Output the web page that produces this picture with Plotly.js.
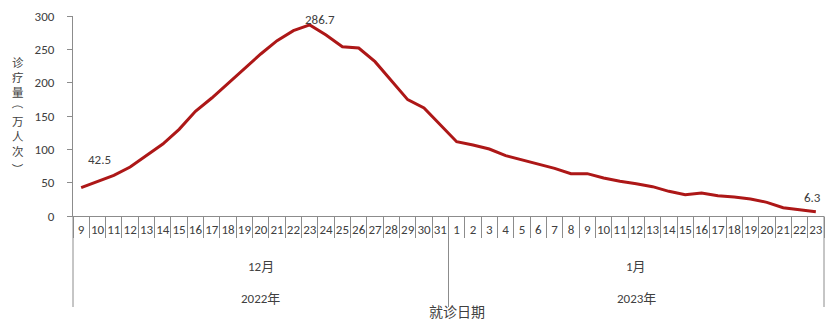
<!DOCTYPE html>
<html>
<head>
<meta charset="utf-8">
<script src="https://cdn.plot.ly/plotly-3.0.1.min.js"></script>
<style>html,body{margin:0;padding:0;background:#fff;}#chart{width:831px;height:323px;}</style>
</head>
<body>
<div id="chart"></div>
<script>
// ---- data ----
const dayLabels = ["9","10","11","12","13","14","15","16","17","18","19","20","21","22","23","24","25","26","27","28","29","30","31",
                   "1","2","3","4","5","6","7","8","9","10","11","12","13","14","15","16","17","18","19","20","21","22","23"];
const monthOfDay = ["12月","12月","12月","12月","12月","12月","12月","12月","12月","12月","12月","12月","12月","12月","12月","12月","12月","12月","12月","12月","12月","12月","12月",
                    "1月","1月","1月","1月","1月","1月","1月","1月","1月","1月","1月","1月","1月","1月","1月","1月","1月","1月","1月","1月","1月","1月","1月"];
const monthLabels = ["12月", "1月"];
const yearLabels = ["2022年", "2023年"];
const visits = [42.5, 51.5, 61, 73.5, 90.5, 108, 130, 157, 177, 199.5, 220.5, 243, 263, 278, 286.7, 271.5, 254, 252, 231.5, 203, 174.5, 162, 136,
                111.5, 106.5, 100.5, 90.5, 84, 78, 71.5, 63.5, 63.5, 57, 52, 48.5, 44, 37, 32, 34.5, 30.5, 28.5, 25.5, 20.5, 12.5, 9.5, 6.3];
const labelledIdx = [0, 14, 45];
const yTitle = "诊疗量（万人次）";
const xTitle = "就诊日期";

// ---- build ----
const cats = dayLabels.map((d, i) => monthOfDay[i] + d + "日");
const FONT = 'Calibri, Carlito, "Liberation Sans", "Noto Sans CJK SC", sans-serif';
const CJK = '"Noto Sans CJK SC", sans-serif';
const TXT = "#404040";
const GRID = "#8c8c8c";

const trace = {
  x: cats, y: visits, type: "scatter", mode: "lines",
  line: {color: "#ad1717", width: 3},
  hoverinfo: "skip"
};

const annotations = [];
// month & year labels centred on their groups
monthLabels.forEach((m, k) => {
  const idx = monthOfDay.map((v, i) => v === m ? i : -1).filter(i => i >= 0);
  const mid = cats[idx[Math.floor(idx.length / 2)]];
  annotations.push({xref: "x", yref: "paper", x: mid, y: -0.25, text: m, showarrow: false,
    font: {size: 13, color: TXT, family: FONT}, xanchor: "center", yanchor: "middle"});
  annotations.push({xref: "x", yref: "paper", x: mid, y: -0.41, text: yearLabels[k], showarrow: false,
    font: {size: 13, color: TXT, family: FONT}, xanchor: "center", yanchor: "middle"});
});
// data labels
const shifts = {0: [18, 28], 14: [10, 5], 45: [-3, 14]};
labelledIdx.forEach(i => {
  annotations.push({xref: "x", yref: "y", x: cats[i], y: visits[i], text: String(visits[i]), showarrow: false,
    xshift: shifts[i][0], yshift: shifts[i][1], xanchor: "center", font: {size: 13, color: TXT, family: FONT}});
});
// x-axis title
annotations.push({xref: "paper", yref: "paper", x: 0.511, y: -0.4825, text: xTitle, showarrow: false,
  xanchor: "center", yanchor: "middle", font: {size: 14, color: TXT, family: FONT}});

// vertical (stacked) y-axis title; brackets turned 90° as in vertical writing
const FS = 11.5, pitch = FS * 1.3, centrePx = 114, titleX = -0.0732;
const chars = yTitle.split("");
const rowY = k => (216 - (centrePx + (k - (chars.length - 1) / 2) * pitch)) / 200;
let run = [];
const flush = endK => {
  if (!run.length) return;
  const midK = endK - (run.length - 1) / 2;
  annotations.push({xref: "paper", yref: "paper", x: titleX, y: rowY(midK), text: run.join("<br>"),
    showarrow: false, xanchor: "center", yanchor: "middle", font: {size: FS, color: TXT, family: CJK}});
  run = [];
};
chars.forEach((ch, k) => {
  if (ch === "（" || ch === "）") {
    flush(k - 1);
    annotations.push({xref: "paper", yref: "paper", x: titleX, y: rowY(k), text: ch, textangle: 90,
      showarrow: false, xanchor: "center", yanchor: "middle", yshift: ch === "（" ? 3 : -3,
      font: {size: FS, color: TXT, family: CJK}});
  } else {
    run.push(ch);
  }
});
flush(chars.length - 1);

const shapes = [0, 0.5, 1].map(xp => ({
  type: "line", xref: "paper", yref: "paper", x0: xp, x1: xp, y0: 0, y1: -0.455,
  line: {color: GRID, width: 1}
}));

const layout = {
  width: 831, height: 323,
  margin: {l: 73, r: 7, t: 16, b: 107},
  paper_bgcolor: "#fff", plot_bgcolor: "#fff",
  showlegend: false,
  font: {family: FONT, color: TXT, size: 13},
  xaxis: {
    type: "category", tickmode: "array", tickvals: cats, ticktext: dayLabels,
    tickson: "boundaries", ticks: "outside", ticklen: 21, tickcolor: GRID, tickwidth: 1,
    ticklabelstandoff: 1,
    showline: true, linecolor: GRID, linewidth: 1, showgrid: false, zeroline: false,
    tickangle: 0, tickfont: {size: 13, color: TXT, family: FONT},
    range: [-0.5, cats.length - 0.5]
  },
  yaxis: {
    range: [0, 300], dtick: 50, tick0: 0,
    ticks: "outside", ticklen: 5, tickcolor: GRID, showline: true, linecolor: GRID, linewidth: 1,
    showgrid: false, zeroline: false, ticklabelstandoff: 10,
    tickfont: {size: 13, color: TXT, family: FONT}
  },
  annotations: annotations,
  shapes: shapes
};

Plotly.newPlot("chart", [trace], layout, {displayModeBar: false, staticPlot: true});
</script>
</body>
</html>
